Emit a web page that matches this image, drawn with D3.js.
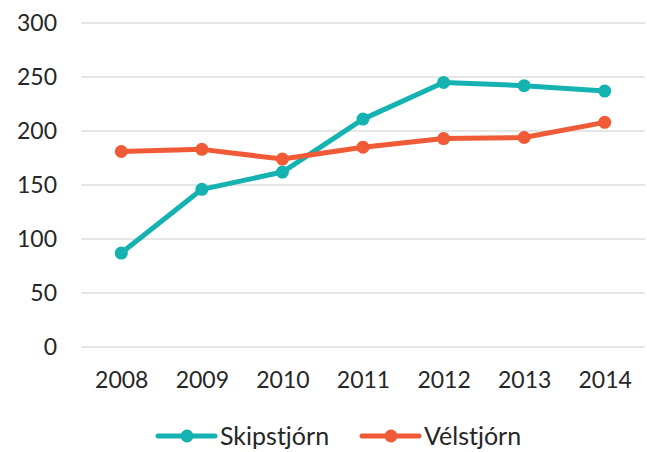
<!DOCTYPE html>
<html>
<head>
<meta charset="utf-8">
<script src="https://cdn.jsdelivr.net/npm/d3@7"></script>
<style>
  body { margin: 0; background: #fff; }
  svg text { font-family: Lato, "Open Sans", sans-serif; fill: #262626; }
</style>
</head>
<body>
<div id="chart"></div>
<script>
var years = ["2008", "2009", "2010", "2011", "2012", "2013", "2014"];
var skipstjorn = [87, 146, 162, 211, 245, 242, 237];
var velstjorn = [181, 183, 174, 185, 193, 194, 208];
var yTicks = [0, 50, 100, 150, 200, 250, 300];
var seriesNames = ["Skipstjórn", "Vélstjórn"];
var seriesColors = ["#14b2b0", "#f05a36"];

var W = 647, H = 452;
var margin = { top: 23, right: 2, bottom: 105, left: 81 };
var width = W - margin.left - margin.right;
var height = 347 - margin.top;

var svg = d3.select("#chart").append("svg")
    .attr("width", W)
    .attr("height", H);

var g = svg.append("g")
    .attr("transform", "translate(" + margin.left + "," + margin.top + ")");

var x = d3.scalePoint()
    .domain(years)
    .range([0, width])
    .padding(0.5);

var y = d3.scaleLinear()
    .domain([0, 300])
    .range([height, 0]);

// gridlines
g.append("g")
    .selectAll("line")
    .data(yTicks)
    .enter()
    .append("line")
    .attr("x1", 0)
    .attr("x2", width)
    .attr("y1", function(d) { return y(d); })
    .attr("y2", function(d) { return y(d); })
    .attr("stroke", "#dcdcdc")
    .attr("stroke-width", 1.5);

// y axis labels
var yAxis = g.append("g")
    .call(d3.axisLeft(y).tickValues(yTicks).tickSize(0).tickPadding(24));
yAxis.select(".domain").remove();
yAxis.selectAll("text").style("font-size", "23px");

// x axis labels
var xAxis = g.append("g")
    .attr("transform", "translate(0," + height + ")")
    .call(d3.axisBottom(x).tickSize(0).tickPadding(25));
xAxis.select(".domain").remove();
xAxis.selectAll("text").style("font-size", "23px");

var allSeries = [skipstjorn, velstjorn];

var line = d3.line()
    .x(function(d, i) { return x(years[i]); })
    .y(function(d) { return y(d); });

allSeries.forEach(function(vals, k) {
    g.append("path")
        .datum(vals)
        .attr("fill", "none")
        .attr("stroke", seriesColors[k])
        .attr("stroke-width", 5)
        .attr("stroke-linejoin", "round")
        .attr("d", line);

    g.selectAll(".dot" + k)
        .data(vals)
        .enter()
        .append("circle")
        .attr("cx", function(d, i) { return x(years[i]); })
        .attr("cy", function(d) { return y(d); })
        .attr("r", 6.5)
        .attr("fill", seriesColors[k]);
});

// legend
var legendX = [158, 362];
var legend = svg.append("g");
seriesNames.forEach(function(name, k) {
    var lg = legend.append("g")
        .attr("transform", "translate(" + legendX[k] + ",436)");
    lg.append("line")
        .attr("x1", 0).attr("x2", 57)
        .attr("stroke", seriesColors[k])
        .attr("stroke-width", 5)
        .attr("stroke-linecap", "round");
    lg.append("circle")
        .attr("cx", 29).attr("r", 6.5)
        .attr("fill", seriesColors[k]);
    lg.append("text")
        .attr("x", 62)
        .attr("y", 9)
        .style("font-size", "25px")
        .text(name);
});
</script>
</body>
</html>
